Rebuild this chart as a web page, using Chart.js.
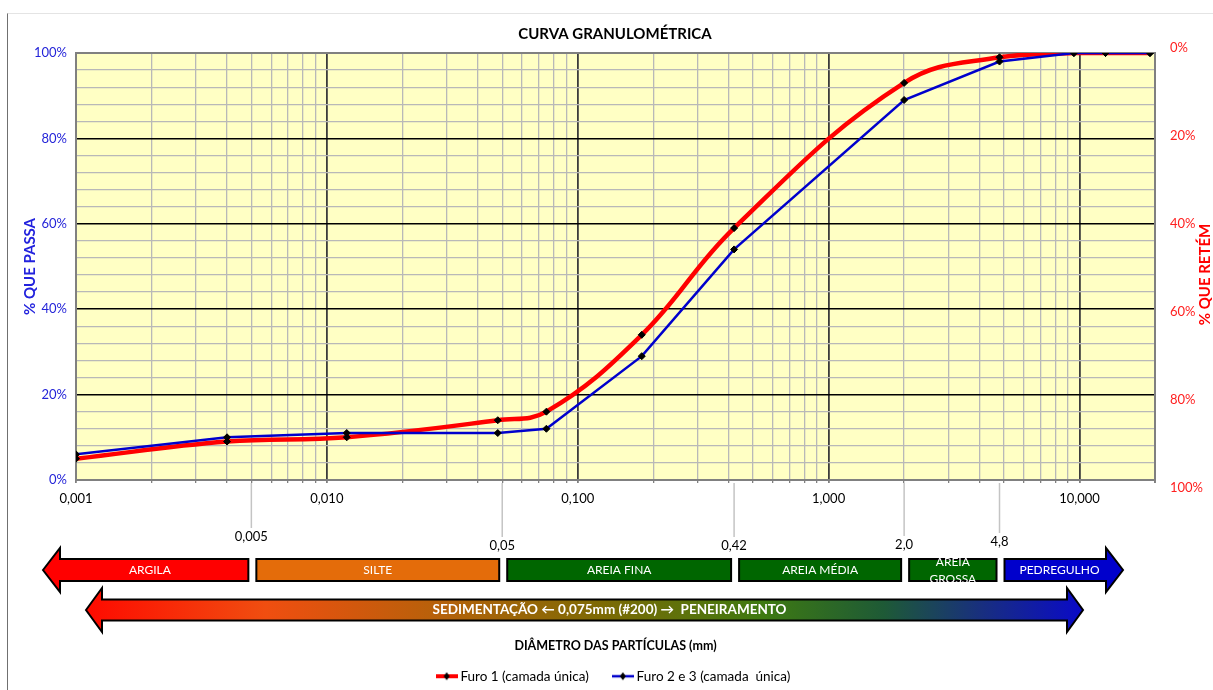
<!DOCTYPE html>
<html>
<head>
<meta charset="utf-8">
<script src="https://cdn.jsdelivr.net/npm/chart.js@4.4.1/dist/chart.umd.min.js"></script>
<style>
  html, body { margin: 0; padding: 0; background: #fff; }
  #wrap { position: relative; width: 1213px; height: 690px; overflow: hidden; }
  #frame { position: absolute; left: 7px; top: 13px; right: 0; bottom: 0;
           border-left: 1px solid #707070; border-top: 1px solid #e4e4e4; }
  canvas { position: absolute; left: 0; top: 0; }
</style>
</head>
<body>
<div id="wrap"><div id="frame"></div><canvas id="c" width="1213" height="690"></canvas></div>
<script>
const FONT = 'Lato, "DejaVu Sans Condensed", "DejaVu Sans", sans-serif';

// Particle diameters (mm): sedimentation readings, then sieves
const diameters = [0.001, 0.004, 0.012, 0.048, 0.075, 0.18, 0.42, 2.0, 4.8, 9.5, 12.7, 19.1];
// Percentage passing
const furo1  = [5, 9, 10, 14, 16, 34, 59, 93, 99, 100, 100, 100];
const furo23 = [6, 10, 11, 11, 12, 29, 54, 89, 98, 100, 100, 100];
const seriesNames = ['Furo 1 (camada única)', 'Furo 2 e 3 (camada  única)'];

// Axis labels
const decadeTicks  = [0.001, 0.01, 0.1, 1, 10];
const decadeLabels = ['0,001', '0,010', '0,100', '1,000', '10,000'];
const passTicks    = [0, 20, 40, 60, 80, 100];
const retainTicks  = [0, 20, 40, 60, 80, 100];

// Soil fraction limits (mm) and names
const limits      = [0.005, 0.05, 0.42, 2.0, 4.8];
const limitLabels = ['0,005', '0,05', '0,42', '2,0', '4,8'];
const fractions   = ['ARGILA', 'SILTE', 'AREIA FINA', 'AREIA MÉDIA', 'AREIA GROSSA', 'PEDREGULHO'];
const processText = 'SEDIMENTAÇÃO ← 0,075mm (#200) →  PENEIRAMENTO';

// Styling
const fractionColors = ['#FF0000', '#E46C0A', '#006600', '#006600', '#006600', '#0000CC'];
const limitLabelDrop = [57, 66, 66, 65, 62];

// Log grid: 1..9 per decade up to the axis maximum
const X_MIN = 0.001, X_MAX = 20;
const gridValues = [];
for (let e = -3; e <= 1; e++) {
  for (let m = 1; m <= 9; m++) {
    const v = +(m * Math.pow(10, e)).toPrecision(6);
    if (v <= X_MAX) gridValues.push(v);
  }
}
gridValues.push(X_MAX);
const isDecade = v => decadeTicks.some(d => Math.abs(d - v) / d < 1e-6);

// Legend icons: line with a black diamond marker
function legendIcon(color, width) {
  const c = document.createElement('canvas');
  c.width = 22; c.height = 10;
  const g = c.getContext('2d');
  g.strokeStyle = color; g.lineWidth = width;
  g.beginPath(); g.moveTo(0, 5); g.lineTo(22, 5); g.stroke();
  g.fillStyle = '#000';
  g.beginPath(); g.moveTo(11, 1); g.lineTo(14, 5); g.lineTo(11, 9); g.lineTo(8, 5); g.closePath(); g.fill();
  return c;
}
const legendIcons = [legendIcon('#FF0000', 4), legendIcon('#0000CC', 2.5)];

function arrowShape(ctx, x0, x1, cy, bh, hh, hl, left, right) {
  ctx.beginPath();
  if (left) {
    ctx.moveTo(x0, cy);
    ctx.lineTo(x0 + hl, cy - hh);
    ctx.lineTo(x0 + hl, cy - bh);
  } else {
    ctx.moveTo(x0, cy - bh);
  }
  if (right) {
    ctx.lineTo(x1 - hl, cy - bh);
    ctx.lineTo(x1 - hl, cy - hh);
    ctx.lineTo(x1, cy);
    ctx.lineTo(x1 - hl, cy + hh);
    ctx.lineTo(x1 - hl, cy + bh);
  } else {
    ctx.lineTo(x1, cy - bh);
    ctx.lineTo(x1, cy + bh);
  }
  if (left) {
    ctx.lineTo(x0 + hl, cy + bh);
    ctx.lineTo(x0 + hl, cy + hh);
  } else {
    ctx.lineTo(x0, cy + bh);
  }
  ctx.closePath();
}

const soilBands = {
  id: 'soilBands',
  beforeDraw(chart) {
    const { ctx, chartArea: a } = chart;
    ctx.save();
    ctx.fillStyle = '#FFFFC4';
    ctx.fillRect(a.left, a.top, a.right - a.left, a.bottom - a.top);
    ctx.restore();
  },
  afterDraw(chart) {
    const { ctx, chartArea: a } = chart;
    const xs = chart.scales.x;
    const px = v => xs.getPixelForValue(v);
    ctx.save();

    // limit markers below the axis
    ctx.font = '13px ' + FONT;
    ctx.textAlign = 'center';
    ctx.textBaseline = 'middle';
    limits.forEach((v, i) => {
      const x = px(v);
      const ly = a.bottom + limitLabelDrop[i];
      ctx.strokeStyle = '#C4C4C4';
      ctx.lineWidth = 1.5;
      ctx.beginPath(); ctx.moveTo(x, a.bottom + 3); ctx.lineTo(x, ly - 9); ctx.stroke();
      ctx.fillStyle = '#000';
      ctx.fillText(limitLabels[i], x, ly);
    });

    // fraction arrows
    const cy1 = a.bottom + 90;
    const hl1 = 17;
    const edges = [a.left - 33].concat(limits.map(px)).concat([a.right - 32]);
    fractions.forEach((name, i) => {
      const first = i === 0, last = i === fractions.length - 1;
      const x0 = first ? edges[0] : edges[i] + 5;
      const x1 = last ? edges[i + 1] : edges[i + 1] - 3;
      arrowShape(ctx, x0, x1, cy1, 11, 22, hl1, first, last);
      ctx.fillStyle = fractionColors[i];
      ctx.fill();
      ctx.strokeStyle = '#000'; ctx.lineWidth = 2; ctx.lineJoin = 'miter';
      ctx.stroke();
      const bx0 = first ? x0 + hl1 / 2 : x0, bx1 = last ? x1 - hl1 / 2 : x1;
      const cx = (bx0 + bx1) / 2;
      ctx.fillStyle = '#fff';
      ctx.font = '12px ' + FONT;
      const words = name.split(' ');
      if (x1 - x0 < 100 && words.length > 1) {
        ctx.fillText(words[0], cx, cy1 - 8);
        ctx.fillText(words.slice(1).join(' '), cx, cy1 + 9);
      } else {
        ctx.fillText(name, cx, cy1);
      }
    });

    // sedimentation / sieving arrow
    const cy2 = a.bottom + 130;
    const r0 = a.left + 10, r1 = a.right - 72;
    const grad = ctx.createLinearGradient(r0, 0, r1, 0);
    grad.addColorStop(0.00, '#FF0A00');
    grad.addColorStop(0.18, '#F04E10');
    grad.addColorStop(0.36, '#B4620A');
    grad.addColorStop(0.52, '#7C6A04');
    grad.addColorStop(0.68, '#3E7A12');
    grad.addColorStop(0.80, '#1E5A36');
    grad.addColorStop(0.90, '#182E80');
    grad.addColorStop(1.00, '#0A0AC8');
    arrowShape(ctx, r0, r1, cy2, 10.5, 22, 16, true, true);
    ctx.fillStyle = grad; ctx.fill();
    ctx.strokeStyle = '#000'; ctx.lineWidth = 2; ctx.stroke();
    ctx.fillStyle = '#fff';
    ctx.font = 'bold 13.5px ' + FONT;
    ctx.fillText(processText, (a.left + a.right) / 2 - 6, cy2);

    // right axis title
    ctx.translate(chart.width - 8, (a.top + a.bottom) / 2 + 8);
    ctx.rotate(-Math.PI / 2);
    ctx.fillStyle = '#FF0000';
    ctx.font = 'bold 15px ' + FONT;
    ctx.fillText('% QUE RETÉM', 0, 0);
    ctx.restore();
  }
};

const pts = arr => diameters.map((d, i) => ({ x: d, y: arr[i] }));

new Chart(document.getElementById('c'), {
  type: 'line',
  data: {
    datasets: [
      { label: seriesNames[0], data: pts(furo1), borderColor: '#FF0000', backgroundColor: '#FF0000',
        borderWidth: 4.5, tension: 0.4, pointStyle: 'rectRot', pointRadius: 3.5,
        pointBackgroundColor: '#000', pointBorderColor: '#000', pointBorderWidth: 1, order: 1 },
      { label: seriesNames[1], data: pts(furo23), borderColor: '#0000CC', backgroundColor: '#0000CC',
        borderWidth: 2.5, tension: 0, pointStyle: 'rectRot', pointRadius: 3.5,
        pointBackgroundColor: '#000', pointBorderColor: '#000', pointBorderWidth: 1, order: 0 }
    ]
  },
  options: {
    responsive: false,
    animation: false,
    layout: { padding: { left: 17, right: 0, top: 0, bottom: -3 } },
    scales: {
      x: {
        type: 'logarithmic', position: 'bottom', min: X_MIN, max: X_MAX,
        afterBuildTicks: s => { s.ticks = gridValues.map(v => ({ value: v })); },
        ticks: {
          autoSkip: false, maxRotation: 0, color: '#000', padding: 8,
          font: { family: FONT, size: 13 },
          callback: v => { const i = decadeTicks.findIndex(d => Math.abs(d - v) / d < 1e-6); return i >= 0 ? decadeLabels[i] : ''; }
        },
        grid: {
          color: c => c.tick && c.tick.value === X_MAX ? '#808080' : (c.tick && isDecade(c.tick.value) ? '#3c3c3c' : '#b8b8b8'),
          lineWidth: c => c.tick && (c.tick.value === X_MAX || isDecade(c.tick.value)) ? 1.8 : 1.3,
          tickLength: 3, tickColor: '#808080'
        },
        border: { display: true, color: '#808080', width: 2 },
        title: { display: true, text: 'DIÂMETRO DAS PARTÍCULAS (mm)', color: '#000',
                 font: { family: FONT, size: 12.5, weight: 'bold' }, padding: { top: 0, bottom: -11 } },
        afterFit: s => { s.height = 162.5; }
      },
      y: {
        type: 'linear', position: 'left', min: 0, max: 100,
        afterBuildTicks: s => { const t = []; for (let v = 0; v <= 100; v += 4) t.push({ value: v }); s.ticks = t; },
        ticks: { autoSkip: false, color: '#2424D8', padding: 9, font: { family: FONT, size: 13 },
                 callback: v => passTicks.includes(v) ? v + '%' : '' },
        grid: {
          color: c => c.tick.value === 100 ? '#808080' : (c.tick.value % 20 === 0 ? '#000' : '#b8b8b8'),
          lineWidth: c => c.tick.value === 100 ? 2 : (c.tick.value % 20 === 0 ? 1.5 : 1.3),
          drawTicks: false
        },
        border: { color: '#808080', width: 2 },
        title: { display: true, text: '% QUE PASSA', color: '#2222DD',
                 font: { family: FONT, size: 15, weight: 'bold' }, padding: { top: 4, bottom: 0 } },
        afterFit: s => { s.width = 59; }
      },
      y2: {
        type: 'linear', position: 'right', reverse: true, min: 1.25, max: 98.2,
        afterBuildTicks: s => { s.ticks = retainTicks.map(v => ({ value: v })); },
        ticks: { autoSkip: false, color: '#FF2020', padding: 15, font: { family: FONT, size: 13 },
                 callback: v => v + '%' },
        grid: { drawOnChartArea: false, drawTicks: false },
        border: { color: '#808080', width: 2 },
        afterFit: s => { s.width = 58; }
      }
    },
    plugins: {
      title: { display: true, text: 'CURVA GRANULOMÉTRICA', color: '#000',
               font: { family: FONT, size: 15, weight: 'bold' }, padding: { top: 25, bottom: 10 } },
      legend: {
        position: 'bottom',
        labels: {
          usePointStyle: true, pointStyleWidth: 14, padding: 27, color: '#000',
          font: { family: FONT, size: 13.5 },
          generateLabels: chart => chart.data.datasets.map((ds, i) => ({
            text: ds.label, pointStyle: legendIcons[i], fillStyle: ds.borderColor,
            strokeStyle: ds.borderColor, lineWidth: 0, hidden: false, datasetIndex: i, fontColor: '#000'
          }))
        }
      },
      tooltip: { enabled: false }
    }
  },
  plugins: [soilBands]
});
</script>
</body>
</html>
